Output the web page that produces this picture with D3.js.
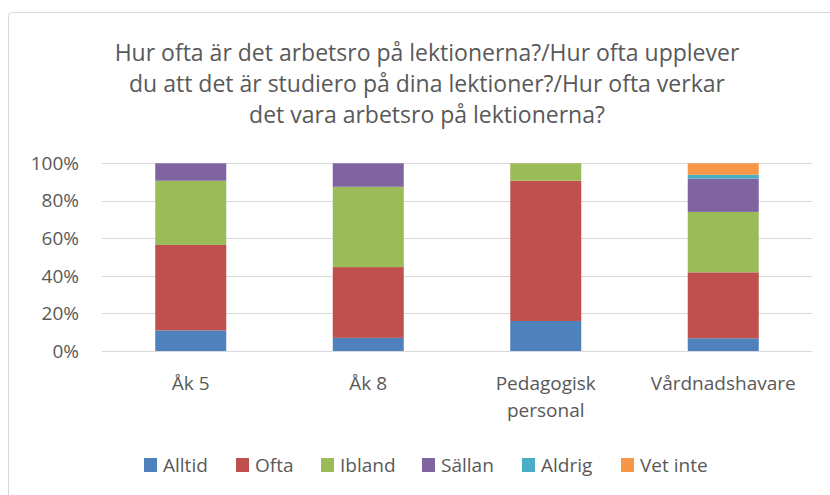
<!DOCTYPE html>
<html>
<head>
<meta charset="utf-8">
<script src="https://cdn.jsdelivr.net/npm/d3@7"></script>
<style>
  body { margin: 0; background: #fff; }
  svg { font-family: 'Open Sans', sans-serif; }
</style>
</head>
<body>
<svg id="chart" width="830" height="495"></svg>
<script>
// data (percent of answers)
const categories = ['Åk 5', 'Åk 8', 'Pedagogisk personal', 'Vårdnadshavare'];
const seriesNames = ['Alltid', 'Ofta', 'Ibland', 'Sällan', 'Aldrig', 'Vet inte'];
const alltid = [11, 7, 16, 6.8];
const ofta = [45.5, 37.7, 74.7, 35.1];
const ibland = [34.2, 42.8, 9.3, 32.2];
const sallan = [9.3, 12.5, 0, 17.7];
const aldrig = [0, 0, 0, 2.1];
const vetInte = [0, 0, 0, 6.1];
const yTicks = [0, 20, 40, 60, 80, 100];
const titleLines = [
  'Hur ofta är det arbetsro på lektionerna?/Hur ofta upplever',
  'du att det är studiero på dina lektioner?/Hur ofta verkar',
  'det vara arbetsro på lektionerna?'
];

const colors = ['#4F81BD', '#C0504D', '#9BBB59', '#8064A2', '#4BACC6', '#F79646'];
const textColor = '#595959';

const rows = categories.map((c, i) => ({
  cat: c,
  'Alltid': alltid[i],
  'Ofta': ofta[i],
  'Ibland': ibland[i],
  'Sällan': sallan[i],
  'Aldrig': aldrig[i],
  'Vet inte': vetInte[i]
}));

const svg = d3.select('#chart');

// outer chart frame (right/bottom edges fall outside the picture)
svg.append('rect')
  .attr('x', 8.5).attr('y', 12.5)
  .attr('width', 840).attr('height', 500)
  .attr('rx', 3)
  .attr('fill', 'none')
  .attr('stroke', '#d9d9d9')
  .attr('stroke-width', 1);

// title
svg.append('text')
  .attr('text-anchor', 'middle')
  .attr('fill', textColor)
  .style('font-size', '23px')
  .selectAll('tspan')
  .data(titleLines)
  .join('tspan')
  .attr('x', 427)
  .attr('y', (d, i) => 61 + i * 31)
  .text(d => d);

const plotLeft = 102, plotRight = 812, plotTop = 163.3, plotBottom = 351;

const x = d3.scaleBand()
  .domain(categories)
  .range([plotLeft, plotRight])
  .paddingInner(0.6)
  .paddingOuter(0.3);

const y = d3.scaleLinear()
  .domain([0, 100])
  .range([plotBottom, plotTop]);

// gridlines
svg.append('g')
  .selectAll('line')
  .data(yTicks)
  .join('line')
  .attr('x1', plotLeft).attr('x2', plotRight)
  .attr('y1', d => Math.round(y(d)) + 0.5)
  .attr('y2', d => Math.round(y(d)) + 0.5)
  .attr('stroke', '#d9d9d9')
  .attr('stroke-width', 1);

// y axis labels
const yAxis = d3.axisLeft(y)
  .tickValues(yTicks)
  .tickFormat(d => d + '%')
  .tickSize(0)
  .tickPadding(23);

const yg = svg.append('g')
  .attr('transform', `translate(${plotLeft},0)`)
  .call(yAxis);
yg.select('.domain').remove();
yg.selectAll('text')
  .attr('fill', textColor)
  .style('font-size', '19px')
  .style('font-family', "'Open Sans', sans-serif");

// stacked bars
const stack = d3.stack().keys(seriesNames);
const layers = stack(rows);

svg.append('g')
  .selectAll('g')
  .data(layers)
  .join('g')
  .attr('fill', (d, i) => colors[i])
  .selectAll('rect')
  .data(d => d)
  .join('rect')
  .attr('x', d => x(d.data.cat))
  .attr('width', x.bandwidth())
  .attr('y', d => y(d[1]))
  .attr('height', d => y(d[0]) - y(d[1]));

// category labels
const xg = svg.append('g');
categories.forEach(c => {
  const words = c === 'Pedagogisk personal' ? ['Pedagogisk', 'personal'] : [c];
  const t = xg.append('text')
    .attr('text-anchor', 'middle')
    .attr('fill', textColor)
    .style('font-size', '19px');
  t.selectAll('tspan')
    .data(words)
    .join('tspan')
    .attr('x', x(c) + x.bandwidth() / 2)
    .attr('y', (d, i) => 390 + i * 27)
    .text(d => d);
});

// legend
const legendX = [144, 236, 321, 422, 522, 621];
const legend = svg.append('g');
seriesNames.forEach((s, i) => {
  legend.append('rect')
    .attr('x', legendX[i]).attr('y', 458)
    .attr('width', 13).attr('height', 14)
    .attr('fill', colors[i]);
  legend.append('text')
    .attr('x', legendX[i] + 19)
    .attr('y', 472)
    .attr('fill', textColor)
    .style('font-size', '19px')
    .text(s);
});
</script>
</body>
</html>
